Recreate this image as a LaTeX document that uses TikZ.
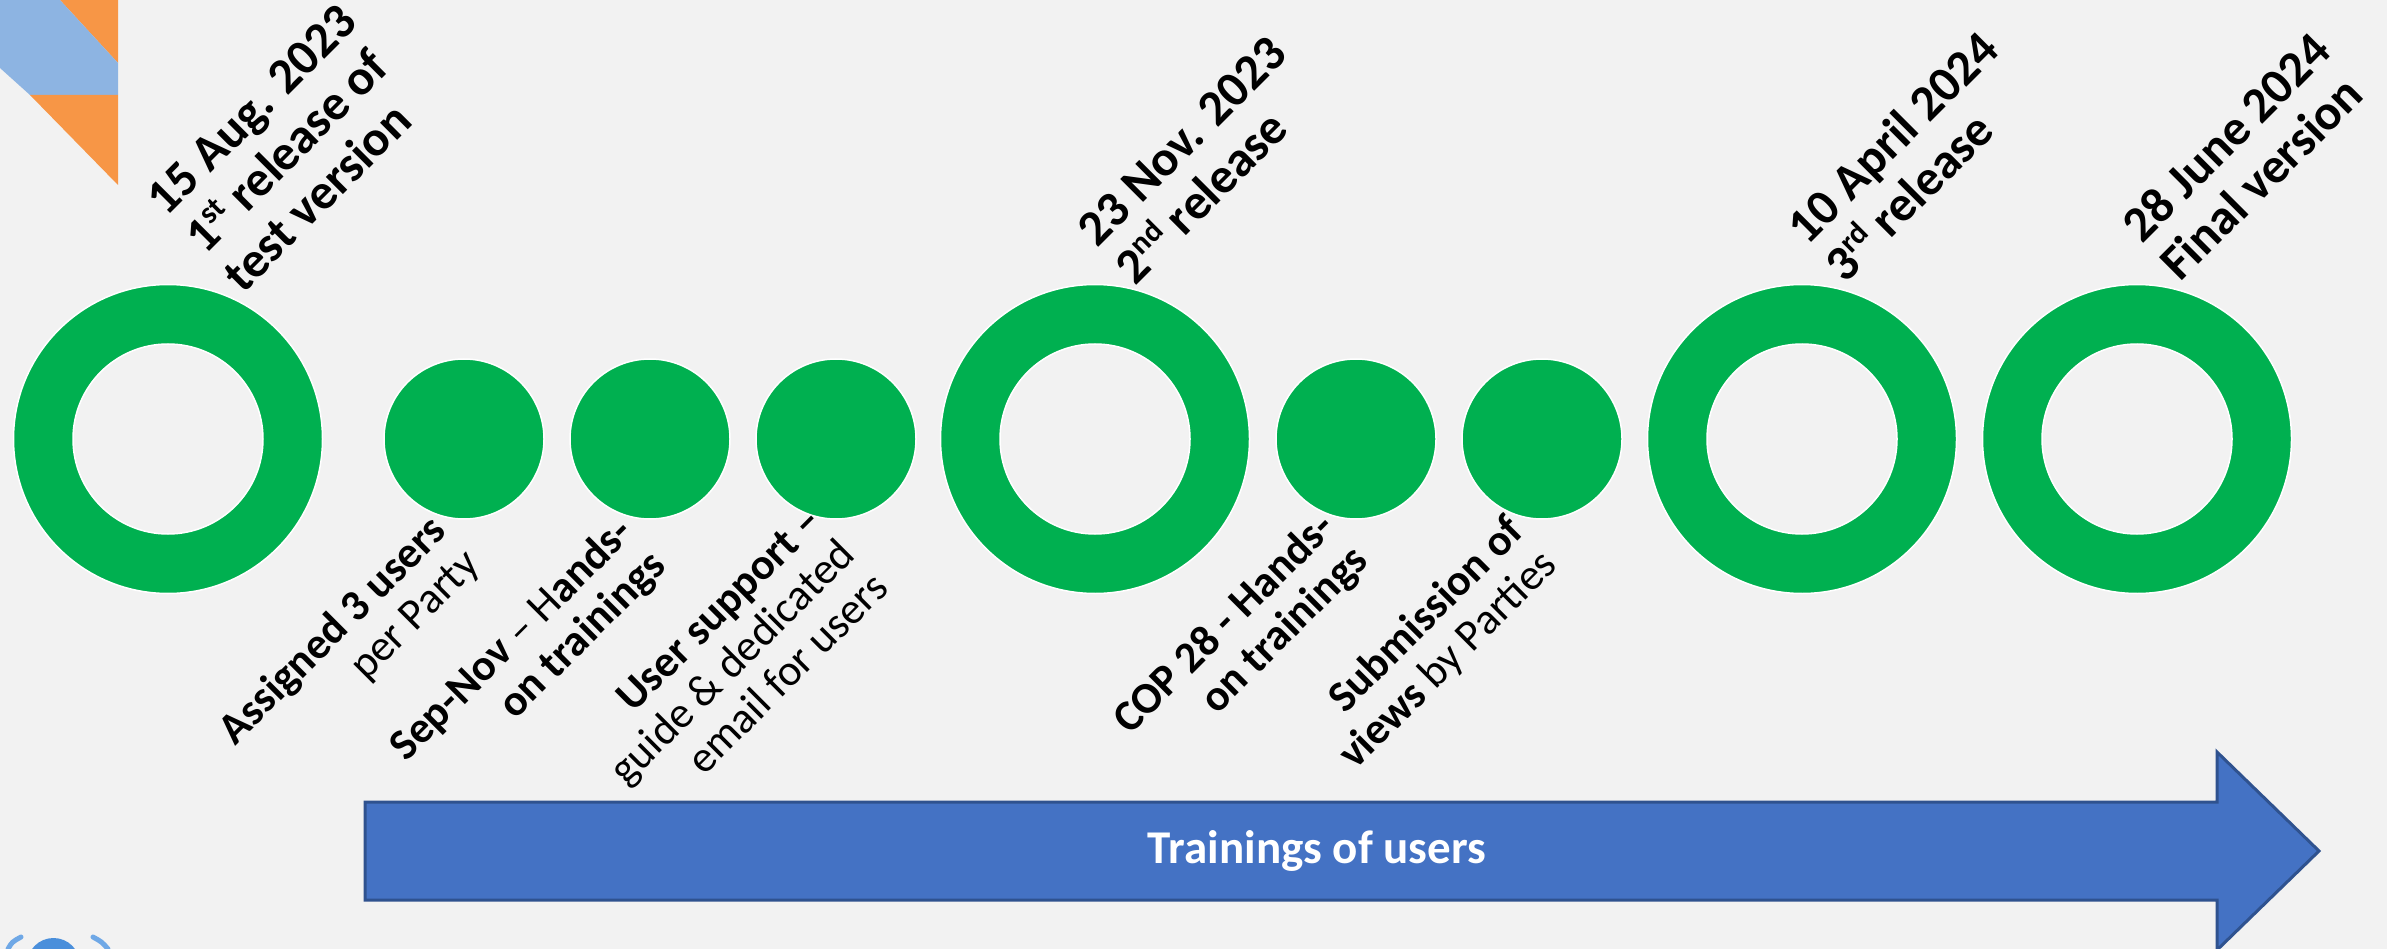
\documentclass[tikz,border=0pt]{standalone}
\usepackage{fontspec}
\setmainfont{Carlito}
\definecolor{bg}{HTML}{F2F2F2}
\definecolor{grn}{HTML}{00B050}
\definecolor{arrblue}{HTML}{4472C4}
\definecolor{arrdark}{HTML}{2F528F}
\definecolor{orng}{HTML}{F79646}
\definecolor{lblue}{HTML}{8DB4E2}
\definecolor{unblue}{HTML}{4A8FDB}
\definecolor{unlight}{HTML}{6FA8E6}
\newcommand\supt[1]{\raisebox{17pt}{\fontsize{31}{31}\selectfont\bfseries #1}}
\begin{document}
\begin{tikzpicture}[x=1pt,y=-1pt,
  lbltop/.style={rotate=45, align=left, inner sep=0pt, text=black,
    font=\fontsize{50}{54}\selectfont\bfseries},
  lblbot/.style={rotate=45, align=right, inner sep=0pt, text=black,
    font=\fontsize{44}{47}\selectfont},
  bigring/.style={circle, minimum size=309pt, fill=grn, draw=white, line width=1.5pt, inner sep=0pt},
  hole/.style={circle, minimum size=190pt, fill=bg, draw=white, line width=1.5pt, inner sep=0pt},
  dotc/.style={circle, minimum size=160pt, fill=grn, draw=white, line width=1.5pt, inner sep=0pt}]
\fill[bg] (0,0) rectangle (2387,949);
\useasboundingbox (0,0) rectangle (2387,949);

% top-left decoration
\fill[orng] (60,0) -- (118,0) -- (118,63) -- cycle;
\fill[lblue] (0,0) -- (60,0) -- (118,63) -- (118,95) -- (30,95) -- (0,68) -- cycle;
\fill[orng] (30,95) -- (118,95) -- (118,185) -- cycle;

% bottom-left logo fragment
\fill[unblue] (53.5,964.5) circle (26.5);
\draw[unlight, line width=5pt, line cap=round] (8,949) .. controls (12,942) .. (21,937);
\draw[unlight, line width=5pt, line cap=round] (93,937) .. controls (102,942) .. (108,949);

% milestones
\node[bigring] (r1) at (168,439) {};
\node[hole] (h1) at (r1) {};
\node[dotc] (d1) at (464,439) {};
\node[dotc] (d2) at (650,439) {};
\node[dotc] (d3) at (836,439) {};
\node[bigring] (r2) at (1095,439) {};
\node[hole] (h2) at (r2) {};
\node[dotc] (d4) at (1356,439) {};
\node[dotc] (d5) at (1542,439) {};
\node[bigring] (r3) at (1802,439) {};
\node[hole] (h3) at (r3) {};
\node[bigring] (r4) at (2137,439) {};
\node[hole] (h4) at (r4) {};

% top labels
\node[lbltop] (t1) at (290,148) {15 Aug. 2023\\1\supt{st} release of\\test version};
\node[lbltop] (t2) at (1201,160) {23 Nov. 2023\\2\supt{nd} release};
\node[lbltop] (t3) at (1911,156) {10 April 2024\\3\supt{rd} release};
\node[lbltop] (t4) at (2245,156) {28 June 2024\\Final version};

% bottom labels
\node[lblbot] (b1) at (350,648) {\textbf{Assigned 3 users}\\per Party};
\node[lblbot] (b2) at (529,657) {\textbf{Sep-Nov} – H\textbf{ands-}\\\textbf{on trainings}};
\node[lblbot] (b3) at (732,662) {\textbf{User support –}\\guide \& dedicated\\email for users};
\node[lblbot] (b4) at (1242,641) {\textbf{COP 28 - Hands-}\\\textbf{on trainings}};
\node[lblbot] (b5) at (1432,644) {\textbf{Submission of}\\\textbf{views} by Parties};

% arrow
\draw[fill=arrblue, draw=arrdark, line width=3pt, line join=miter]
  (365,802) -- (2217,802) -- (2217,752) -- (2319,851) -- (2217,950) -- (2217,900) -- (365,900) -- cycle;
\node[text=white, font=\fontsize{47}{50}\selectfont\bfseries, inner sep=0pt] (tr) at (1317,851) {Trainings of users};
\end{tikzpicture}
\end{document}
